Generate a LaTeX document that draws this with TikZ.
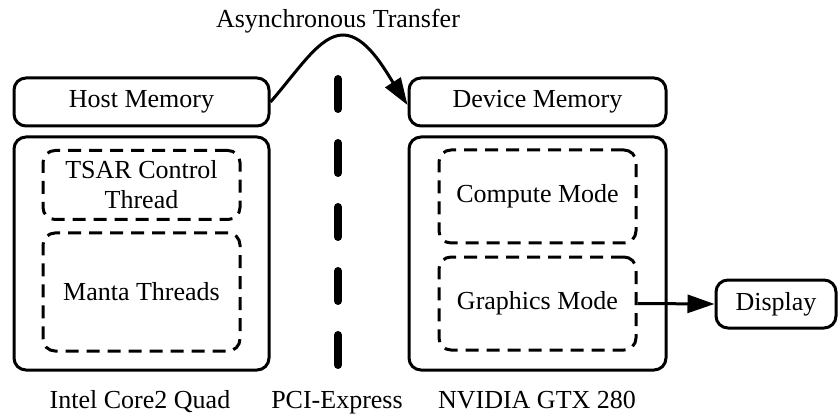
\documentclass[tikz,border=0pt]{standalone}
\usepackage{fontspec}
\setmainfont{LiberationSerif}[Extension=.ttf, UprightFont=*-Regular, BoldFont=*-Bold]
\usetikzlibrary{arrows.meta}
\begin{document}
\begin{tikzpicture}[x=1pt,y=-1pt,
  every node/.style={font=\rmfamily\fontsize{26}{30}\selectfont, inner sep=0pt},
  solidbox/.style={draw, line width=3pt, rounded corners=12pt, align=center},
  dashbox/.style={draw, line width=3pt, rounded corners=12pt, dash pattern=on 13pt off 8pt, align=center},
  caption/.style={anchor=base},
  tip/.style={-{Triangle[length=27pt,width=18pt]}, line width=3pt}
]
\useasboundingbox (0,0) rectangle (838,414);

% CPU side
\node[solidbox, minimum width=255pt, minimum height=48pt] (host) at (141.5,102) {Host Memory};
\node[solidbox, minimum width=255pt, minimum height=233pt] (cpu) at (141.5,253.5) {};
\node[dashbox, minimum width=197pt, minimum height=69pt] (tsar) at (141.5,185) {TSAR Control\\Thread};
\node[dashbox, minimum width=197pt, minimum height=118pt] (manta) at (141.5,292) {Manta Threads};

% GPU side
\node[solidbox, minimum width=257pt, minimum height=48pt] (dev) at (537.5,102) {Device Memory};
\node[solidbox, minimum width=257pt, minimum height=233pt] (gpu) at (537.5,253.5) {};
\node[dashbox, minimum width=197pt, minimum height=93pt] (compute) at (537.5,196.5) {Compute Mode};
\node[dashbox, minimum width=197pt, minimum height=93pt] (graphics) at (537.5,303.5) {Graphics Mode};
\node[solidbox, minimum width=120pt, minimum height=48pt] (display) at (776,304) {Display};

% PCI-Express bus
\coordinate (bustop) at (338,79);
\coordinate (busbot) at (338,365);
\draw[line width=8pt, line cap=round, dash pattern=on 30pt off 34pt] (bustop) -- (busbot);

% captions
\node[caption] (async) at (338,28) {Asynchronous Transfer};
\node[caption] (intel) at (140,408) {Intel Core2 Quad};
\node[caption] (pci) at (337,408) {PCI-Express};
\node[caption] (nvidia) at (537,408) {NVIDIA GTX 280};

% transfer and output connectors
\draw[tip] (host.east) .. controls (300,68) and (320,35) .. (343,35)
  .. controls (366,35) and (385,70) .. ([yshift=-3pt]dev.west);
\draw[tip] (graphics.east) -- (display.west);
\end{tikzpicture}
\end{document}
